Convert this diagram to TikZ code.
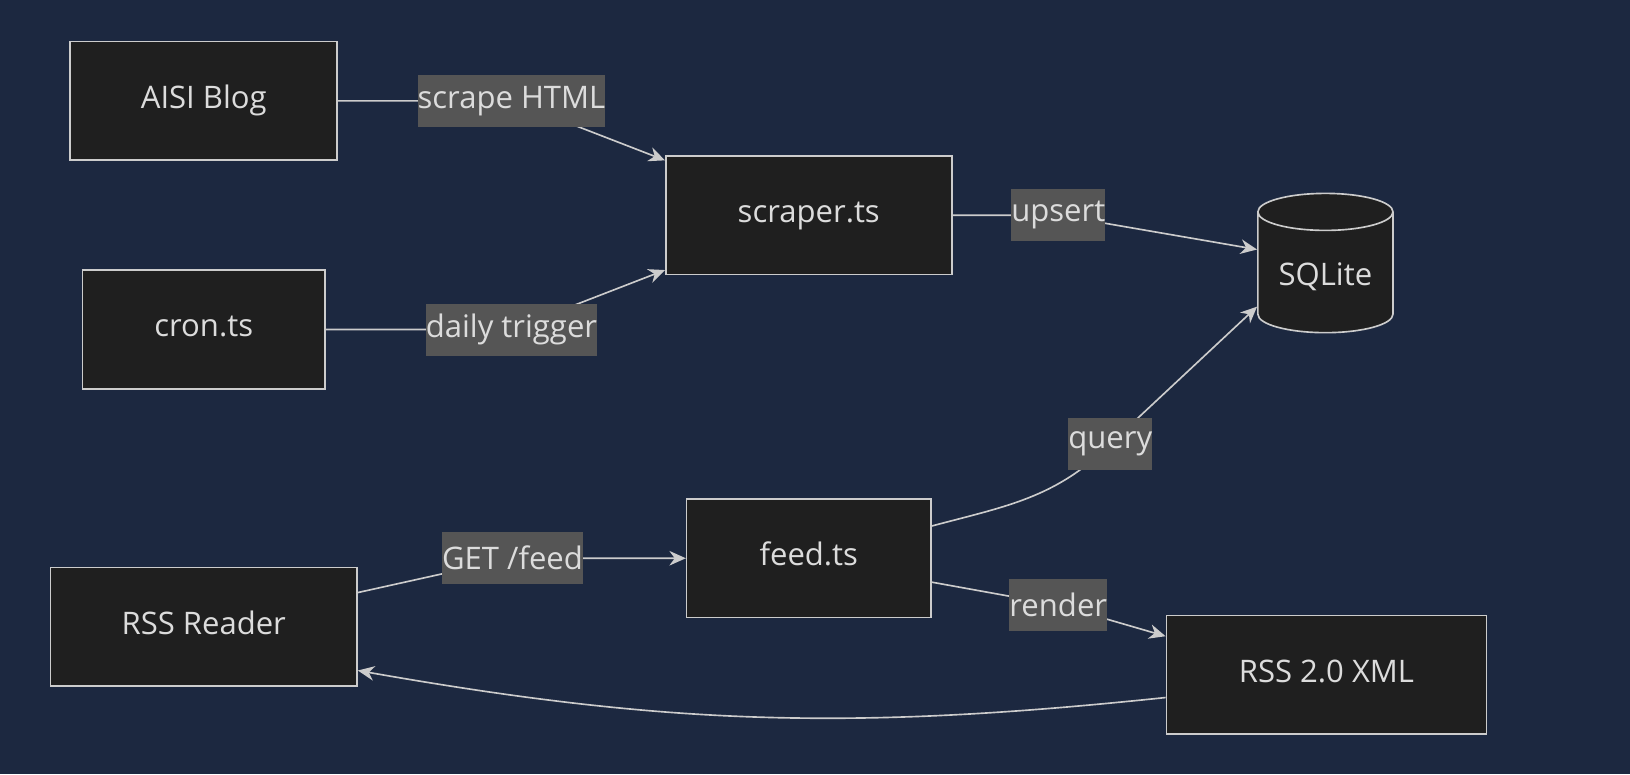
\documentclass[tikz,border=0pt]{standalone}
\usepackage{fontspec}
\setmainfont{Open Sans}
\usetikzlibrary{shapes.geometric, arrows.meta, positioning, calc}
\definecolor{bgnavy}{RGB}{28, 40, 64}
\definecolor{boxfill}{RGB}{31, 31, 31}
\definecolor{boxline}{RGB}{204, 204, 204}
\definecolor{labelbg}{RGB}{85, 85, 85}
\definecolor{textgray}{RGB}{220, 220, 220}
\tikzstyle{block} = [rectangle, minimum height=2.28cm, text centered, text height=1.5ex, text depth=0pt, draw=boxline, fill=boxfill, line width=0.9pt, text=textgray, font=\fontsize{17}{20}\selectfont]
\tikzstyle{store} = [cylinder, shape border rotate=90, aspect=0.35, minimum width=2.6cm, minimum height=2.68cm, draw=boxline, fill=boxfill, line width=0.9pt, text=textgray, font=\fontsize{17}{20}\selectfont]
\tikzstyle{tag} = [rectangle, fill=labelbg, text=textgray, inner xsep=0pt, minimum height=1.0cm, font=\fontsize{17}{20}\selectfont]
\tikzstyle{arrow} = [draw=boxline, line width=0.9pt, -{Stealth[length=9pt,width=8pt]}]
\begin{document}
\begin{tikzpicture}[x=0.02cm, y=-0.02cm]
    \fill[bgnavy] (0,0) rectangle (1568,745);
    \useasboundingbox (0,0) rectangle (1568,745);

    % Blocks
    \node[block, minimum width=5.14cm] (aisi) at (196,97) {AISI Blog};
    \node[block, minimum width=4.66cm] (cron) at (196,317) {cron.ts};
    \node[block, minimum width=5.5cm] (scraper) at (778,207) {scraper.ts};
    \node[store] (db) at (1275,266) {SQLite};
    \node[block, minimum width=4.7cm] (feed) at (778,537) {feed.ts};
    \node[block, minimum width=5.9cm] (reader) at (196,603) {RSS Reader};
    \node[block, minimum width=6.16cm] (xml) at (1276,649) {RSS 2.0 XML};

    % Label anchors
    \coordinate (c1) at (492,97);
    \coordinate (c2) at (492,317);
    \coordinate (c3) at (1018,207);
    \coordinate (c4) at (1068,427);
    \coordinate (c5) at (493,537);
    \coordinate (c6) at (1018,582);

    % Arrows
    \draw[arrow] (aisi.east) -- (c1) -- ([yshift=-0.1cm]scraper.north west);
    \draw[arrow] (cron.east) -- (c2) -- ([yshift=0.1cm]scraper.south west);
    \draw[arrow] (scraper.east) to[out=0,in=180] (c3) -- ([yshift=0.52cm]db.west);
    \draw[arrow] ([yshift=0.62cm]feed.east) to[out=15,in=-135] (c4) -- ([yshift=-0.58cm]db.west);
    \draw[arrow] ([yshift=0.66cm]reader.east) -- (c5) -- (feed.west);
    \draw[arrow] ([yshift=-0.46cm]feed.east) -- (c6) -- ([yshift=0.74cm]xml.west);
    \draw[arrow] ([yshift=-0.44cm]xml.west) to[out=186,in=-10] ([yshift=-0.84cm]reader.east);

    % Labels
    \node[tag] (l1) at (c1) {scrape HTML};
    \node[tag] (l2) at (c2) {daily trigger};
    \node[tag] (l3) at (c3) {upsert};
    \node[tag] (l4) at (c4) {query};
    \node[tag] (l5) at (c5) {GET /feed};
    \node[tag] (l6) at (c6) {render};
\end{tikzpicture}
\end{document}
